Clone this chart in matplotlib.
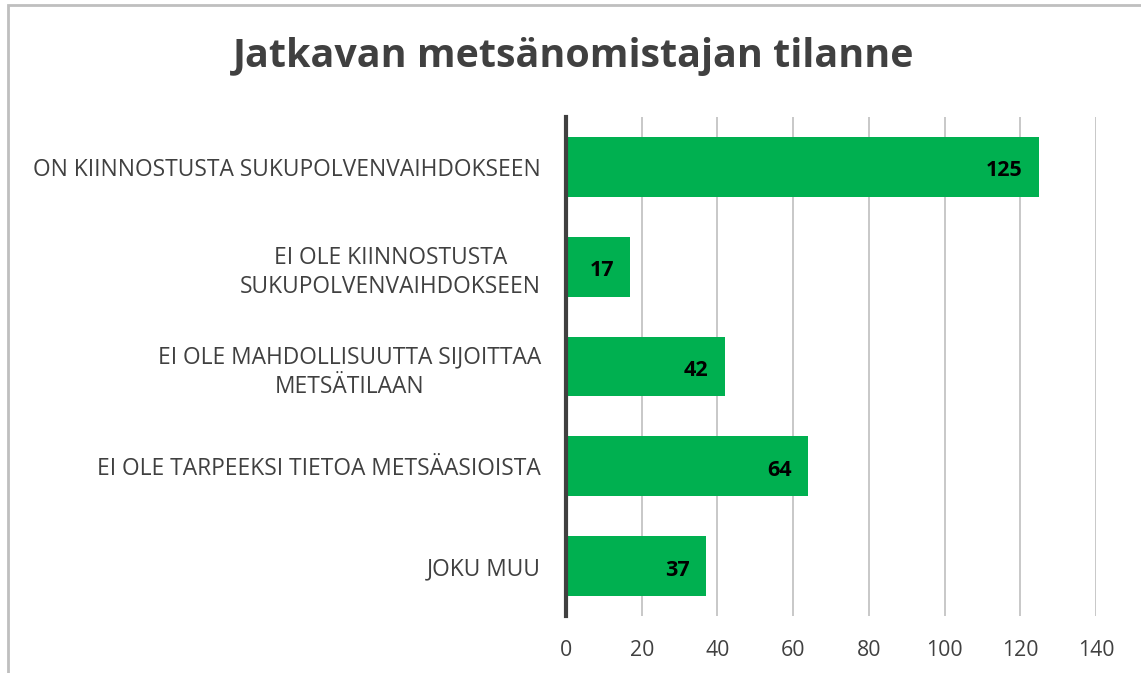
import matplotlib
import matplotlib.pyplot as plt
from matplotlib.patches import Rectangle

matplotlib.use("Agg")

TITLE = "Jatkavan metsänomistajan tilanne"
CATEGORIES = [
    "ON KIINNOSTUSTA SUKUPOLVENVAIHDOKSEEN",
    "EI OLE KIINNOSTUSTA\nSUKUPOLVENVAIHDOKSEEN",
    "EI OLE MAHDOLLISUUTTA SIJOITTAA\nMETSÄTILAAN",
    "EI OLE TARPEEKSI TIETOA METSÄASIOISTA",
    "JOKU MUU",
]
VALUES = [125, 17, 42, 64, 37]
X_TICKS = [0, 20, 40, 60, 80, 100, 120, 140]

GREEN = "#00B050"
TEXT_GREY = "#404040"
FONT = "Open Sans"


def main() -> None:
    fig = plt.figure(figsize=(11.41, 6.73), dpi=100)
    ax = fig.add_axes([566 / 1141, 1 - 616 / 673, 530 / 1141, 499 / 673])

    # chart border (cropped on right/bottom)
    fig.patches.append(
        Rectangle((8 / 1141, -0.1), 1.2, 1 - 5 / 673 + 0.1, transform=fig.transFigure,
                  fill=False, edgecolor="#BFBFBF", linewidth=2)
    )

    y = list(range(len(CATEGORIES)))
    ax.barh(y, VALUES, height=0.6, color=GREEN, zorder=3)
    ax.set_ylim(len(CATEGORIES) - 0.5, -0.5)
    ax.set_xlim(0, 140)
    ax.set_xticks(X_TICKS)
    ax.set_xticklabels([str(t) for t in X_TICKS], fontsize=15.3, color=TEXT_GREY, family=FONT)
    ax.set_yticks(y)
    ax.set_yticklabels(CATEGORIES, fontsize=16.4, color=TEXT_GREY, family=FONT,
                       multialignment="center", linespacing=1.3)
    ax.tick_params(axis="both", length=0)
    ax.tick_params(axis="x", pad=17)
    ax.tick_params(axis="y", pad=18)

    ax.grid(axis="x", color="#BFBFBF", linewidth=1.2, zorder=0)
    for side in ["top", "right", "bottom"]:
        ax.spines[side].set_visible(False)
    ax.spines["left"].set_color("#404040")
    ax.spines["left"].set_linewidth(3)
    ax.spines["left"].set_zorder(4)

    for yi, v in zip(y, VALUES):
        ax.text(v - 4.3, yi + 0.04, str(v), ha="right", va="center", fontsize=15.5,
                fontweight="bold", color="black", family=FONT, zorder=5)

    fig.text(574 / 1141, 1 - 57 / 673, TITLE, ha="center", va="center", fontsize=28.4,
             fontweight="bold", color=TEXT_GREY, family=FONT)

    fig.savefig("out.png", dpi=100)
    plt.close(fig)


if __name__ == "__main__":
    main()
